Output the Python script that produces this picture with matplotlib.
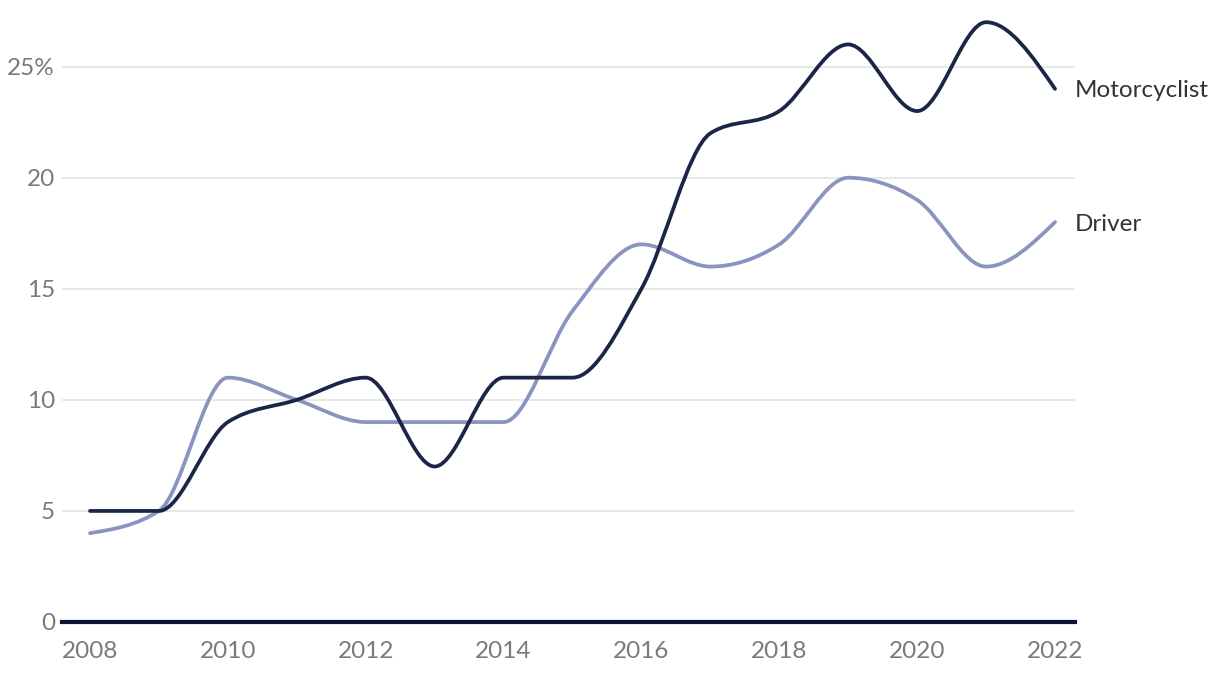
"""Share of fatalities by road user type, 2008-2022."""

import matplotlib
matplotlib.use("Agg")
import matplotlib.pyplot as plt
import numpy as np
from matplotlib.path import Path
from matplotlib.patches import PathPatch

years = [2008, 2009, 2010, 2011, 2012, 2013, 2014, 2015, 2016, 2017, 2018, 2019, 2020, 2021, 2022]
motorcyclist = [5, 5, 9, 10, 11, 7, 11, 11, 15, 22, 23, 26, 23, 27, 24]
driver = [4, 5, 11, 10, 9, 9, 9, 14, 17, 16, 17, 20, 19, 16, 18]

y_ticks = [0, 5, 10, 15, 20, 25]
y_tick_labels = ["0", "5", "10", "15", "20", "25%"]
x_ticks = [2008, 2010, 2012, 2014, 2016, 2018, 2020, 2022]

COLOR_MOTO = "#1b2545"
COLOR_DRIVER = "#8a94c1"
COLOR_TICK = "#7a7a7a"

plt.rcParams["font.family"] = ["Lato", "DejaVu Sans"]


def _pendientes_monotonas(x, y):
    # tangentes tipo d3.curveMonotoneX
    x = np.asarray(x, float)
    y = np.asarray(y, float)
    n = len(x)
    h = np.diff(x)
    s = np.diff(y) / h
    t = np.zeros(n)
    for i in range(1, n - 1):
        s0, s1 = s[i - 1], s[i]
        p = (s0 * h[i] + s1 * h[i - 1]) / (h[i - 1] + h[i])
        t[i] = (np.sign(s0) + np.sign(s1)) * min(abs(s0), abs(s1), 0.5 * abs(p))
    t[0] = (3 * s[0] - t[1]) / 2 if n > 2 else s[0]
    t[-1] = (3 * s[-1] - t[-2]) / 2 if n > 2 else s[-1]
    return t


def _curva_monotona(x, y):
    t = _pendientes_monotonas(x, y)
    verts = [(x[0], y[0])]
    codes = [Path.MOVETO]
    for i in range(len(x) - 1):
        dx = (x[i + 1] - x[i]) / 3
        verts += [(x[i] + dx, y[i] + dx * t[i]),
                  (x[i + 1] - dx, y[i + 1] - dx * t[i + 1]),
                  (x[i + 1], y[i + 1])]
        codes += [Path.CURVE4] * 3
    return Path(verts, codes)


fig = plt.figure(figsize=(12.2, 6.76), dpi=100)
ax = fig.add_axes([62 / 1220, 54 / 676, 1013 / 1220, 622 / 676])
ax.set_xlim(2007.594, 2022.29)
ax.set_ylim(0, 28)

for serie, color, z in ((driver, COLOR_DRIVER, 3), (motorcyclist, COLOR_MOTO, 4)):
    ax.add_patch(PathPatch(_curva_monotona(years, serie), fill=False,
                           edgecolor=color, lw=2.7, capstyle="round",
                           joinstyle="round", zorder=z))

ax.set_yticks(y_ticks)
ax.set_yticklabels(y_tick_labels)
ax.set_xticks(x_ticks)
ax.set_xticklabels([str(v) for v in x_ticks])
ax.tick_params(axis="both", length=0, labelsize=17.5, labelcolor=COLOR_TICK)
ax.tick_params(axis="y", pad=5)
ax.tick_params(axis="x", pad=14)
ax.grid(axis="y", color="#e2e2e2", lw=1.1)
ax.set_axisbelow(True)
for lado in ("top", "right", "left", "bottom"):
    ax.spines[lado].set_visible(False)
ax.axhline(0, color="#0c1633", lw=3, zorder=5, clip_on=False)

ax.annotate("Motorcyclist", xy=(years[-1], motorcyclist[-1]), xytext=(14, -1.5),
            textcoords="offset points", va="center", ha="left",
            fontsize=17.5, color="#333333", annotation_clip=False)
ax.annotate("Driver", xy=(years[-1], driver[-1]), xytext=(14, -1.5),
            textcoords="offset points", va="center", ha="left",
            fontsize=17.5, color="#333333", annotation_clip=False)

fig.savefig("out.png", dpi=100)
